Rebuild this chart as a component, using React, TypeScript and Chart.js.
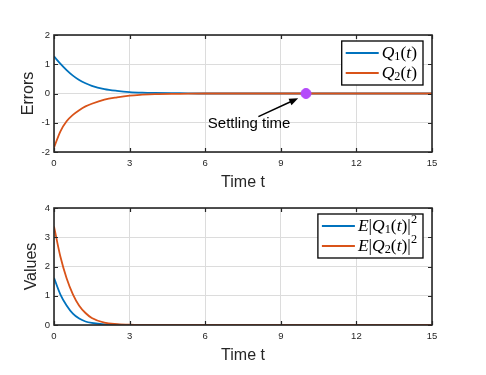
import React, { useEffect, useRef } from "react";
import { Chart, registerables } from "chart.js";

Chart.register(...registerables);

// ---------- data ----------
const tErr = [0, 0.25, 0.5, 0.75, 1, 1.25, 1.5, 2, 2.5, 3, 3.5, 4, 5, 6, 8, 10, 12, 15];
const q1Err = [1.27, 1.02, 0.8, 0.61, 0.46, 0.35, 0.26, 0.15, 0.09, 0.05, 0.03, 0.02, 0.01, 0, 0, 0, 0, 0];
const q2Err = [-1.85, -1.3, -0.95, -0.73, -0.57, -0.44, -0.35, -0.21, -0.13, -0.07, -0.04, -0.02, -0.01, 0, 0, 0, 0, 0];

const tVal = [0, 0.25, 0.5, 0.75, 1, 1.25, 1.5, 2, 2.5, 3, 4, 5, 6, 8, 10, 12, 15];
const q1Val = [1.61, 1.05, 0.67, 0.39, 0.22, 0.12, 0.07, 0.02, 0.01, 0, 0, 0, 0, 0, 0, 0, 0];
const q2Val = [3.37, 2.35, 1.6, 1.05, 0.66, 0.41, 0.24, 0.08, 0.03, 0.01, 0, 0, 0, 0, 0, 0, 0];

const xTicks = [0, 3, 6, 9, 12, 15];

const settlingT = [10];
const settlingV = [0];
const annotText = "Settling time";
const annotTextAt = [7.74, -1.04];
const arrowFrom = [8.11, -0.79];
const arrowTo = [9.69, -0.16];

const BLUE = "#0072BD";
const ORANGE = "#D95319";
const PURPLE = "rgb(180,75,250)";
const AXIS = "#262626";
const GRID = "#dcdcdc";
const SANS = '"Liberation Sans", Arial, Helvetica, sans-serif';
const SERIF = '"Liberation Serif", "Times New Roman", serif';

type Seg = { t: string; it?: boolean; sub?: boolean; sup?: boolean };

const legendErr: Seg[][] = [
  [{ t: "Q", it: true }, { t: "1", sub: true }, { t: "(" }, { t: "t", it: true }, { t: ")" }],
  [{ t: "Q", it: true }, { t: "2", sub: true }, { t: "(" }, { t: "t", it: true }, { t: ")" }],
];
const legendVal: Seg[][] = [
  [{ t: "E", it: true }, { t: "|" }, { t: "Q", it: true }, { t: "1", sub: true }, { t: "(" }, { t: "t", it: true }, { t: ")" }, { t: "|" }, { t: "2", sup: true }],
  [{ t: "E", it: true }, { t: "|" }, { t: "Q", it: true }, { t: "2", sub: true }, { t: "(" }, { t: "t", it: true }, { t: ")" }, { t: "|" }, { t: "2", sup: true }],
];

const FS = 17.5;
function richWidth(ctx: CanvasRenderingContext2D, segs: Seg[]) {
  let w = 0;
  for (const s of segs) {
    const fs = s.sub || s.sup ? FS * 0.7 : FS;
    ctx.font = `${s.it ? "italic " : ""}${fs}px ${SERIF}`;
    w += ctx.measureText(s.t).width;
  }
  return w;
}
function drawRich(ctx: CanvasRenderingContext2D, segs: Seg[], x: number, y: number) {
  let cx = x;
  for (const s of segs) {
    const fs = s.sub || s.sup ? FS * 0.7 : FS;
    ctx.font = `${s.it ? "italic " : ""}${fs}px ${SERIF}`;
    const dy = s.sub ? FS * 0.22 : s.sup ? -FS * 0.38 : 0;
    ctx.fillText(s.t, cx, y + dy);
    cx += ctx.measureText(s.t).width;
  }
}

function makePlugin(legend: Seg[][], colors: string[], withAnnot: boolean) {
  return {
    id: "matlabDecor",
    afterDatasetsDraw(chart: any) {
      const ctx: CanvasRenderingContext2D = chart.ctx;
      const { left, right, top, bottom } = chart.chartArea;
      const xs = chart.scales.x;
      const ys = chart.scales.y;
      ctx.save();
      if (withAnnot) {
        const x1 = xs.getPixelForValue(arrowFrom[0]);
        const y1 = ys.getPixelForValue(arrowFrom[1]);
        const x2 = xs.getPixelForValue(arrowTo[0]);
        const y2 = ys.getPixelForValue(arrowTo[1]);
        const ang = Math.atan2(y2 - y1, x2 - x1);
        const hl = 9, hw = 3.5;
        ctx.strokeStyle = "#000";
        ctx.lineWidth = 1.5;
        ctx.beginPath();
        ctx.moveTo(x1, y1);
        ctx.lineTo(x2 - Math.cos(ang) * hl * 0.8, y2 - Math.sin(ang) * hl * 0.8);
        ctx.stroke();
        ctx.fillStyle = "#000";
        ctx.beginPath();
        ctx.moveTo(x2, y2);
        ctx.lineTo(x2 - Math.cos(ang) * hl - Math.sin(ang) * hw, y2 - Math.sin(ang) * hl + Math.cos(ang) * hw);
        ctx.lineTo(x2 - Math.cos(ang) * hl + Math.sin(ang) * hw, y2 - Math.sin(ang) * hl - Math.cos(ang) * hw);
        ctx.closePath();
        ctx.fill();
        ctx.font = `15px ${SANS}`;
        ctx.textAlign = "center";
        ctx.textBaseline = "middle";
        ctx.fillText(annotText, xs.getPixelForValue(annotTextAt[0]), ys.getPixelForValue(annotTextAt[1]));
      }
      ctx.strokeStyle = AXIS;
      ctx.lineWidth = 1.6;
      ctx.strokeRect(left, top, right - left, bottom - top);
      const tl = 4;
      ctx.lineWidth = 1.2;
      ctx.beginPath();
      for (const v of xTicks) {
        const px = Math.round(xs.getPixelForValue(v)) + 0.5;
        ctx.moveTo(px, bottom);
        ctx.lineTo(px, bottom - tl);
        ctx.moveTo(px, top);
        ctx.lineTo(px, top + tl);
      }
      for (const t of ys.ticks) {
        const py = Math.round(ys.getPixelForValue(t.value)) + 0.5;
        ctx.moveTo(left, py);
        ctx.lineTo(left + tl, py);
        ctx.moveTo(right, py);
        ctx.lineTo(right - tl, py);
      }
      ctx.stroke();
      const tw = Math.max(...legend.map((l) => richWidth(ctx, l)));
      const lineLen = 33;
      const bw = 4 + lineLen + 3 + tw + 6;
      const bh = 44;
      const bx = right - 9 - bw;
      const by = top + 6;
      ctx.fillStyle = "#fff";
      ctx.fillRect(bx, by, bw, bh);
      ctx.strokeStyle = "#000";
      ctx.lineWidth = 1.3;
      ctx.strokeRect(bx, by, bw, bh);
      const rows = [by + 12, by + 32];
      legend.forEach((segs, i) => {
        ctx.strokeStyle = colors[i];
        ctx.lineWidth = 2;
        ctx.beginPath();
        ctx.moveTo(bx + 4, rows[i]);
        ctx.lineTo(bx + 4 + lineLen, rows[i]);
        ctx.stroke();
        ctx.fillStyle = "#000";
        ctx.textAlign = "left";
        ctx.textBaseline = "middle";
        drawRich(ctx, segs, bx + 4 + lineLen + 3, rows[i]);
      });
      ctx.restore();
    },
  };
}

function pts(ts: number[], vs: number[]) {
  return ts.map((t, i) => ({ x: t, y: vs[i] }));
}

function makeOptions(yMin: number, yMax: number, yTitle: string, yTitlePad: number, topPad: number) {
  return {
    responsive: false,
    animation: false as const,
    layout: { padding: { left: 0, right: 54, top: topPad, bottom: 0 } },
    plugins: { legend: { display: false }, tooltip: { enabled: false } },
    scales: {
      x: {
        type: "linear" as const,
        min: 0,
        max: 15,
        afterBuildTicks: (s: any) => {
          s.ticks = xTicks.map((v) => ({ value: v }));
        },
        afterFit: (s: any) => {
          s.height = 38;
        },
        grid: { color: GRID, lineWidth: 1, drawTicks: false },
        border: { display: false },
        ticks: { color: AXIS, font: { family: SANS, size: 9.5 }, padding: 6, maxRotation: 0 },
        title: { display: true, text: "Time t", color: AXIS, font: { family: SANS, size: 16, lineHeight: 1 }, padding: { top: 0, bottom: -1 } },
      },
      y: {
        type: "linear" as const,
        min: yMin,
        max: yMax,
        ticks: { stepSize: 1, color: AXIS, font: { family: SANS, size: 9.5 }, padding: 4 },
        afterFit: (s: any) => {
          s.width = 54;
        },
        grid: { color: GRID, lineWidth: 1, drawTicks: false },
        border: { display: false },
        title: { display: true, text: yTitle, color: AXIS, font: { family: SANS, size: 16, lineHeight: 1 }, padding: { top: yTitlePad, bottom: 0 } },
      },
    },
  };
}

function ErrChart() {
  const ref = useRef<HTMLCanvasElement>(null);
  useEffect(() => {
    const chart = new Chart(ref.current!, {
      type: "line",
      data: {
        datasets: [
          { type: "scatter" as any, label: "settling", data: pts(settlingT, settlingV), backgroundColor: PURPLE, borderColor: PURPLE, pointRadius: 5, order: -1 } as any,
          { label: "Q1", data: pts(tErr, q1Err), borderColor: BLUE, borderWidth: 1.8, pointRadius: 0, cubicInterpolationMode: "monotone", order: 2 },
          { label: "Q2", data: pts(tErr, q2Err), borderColor: ORANGE, borderWidth: 1.8, pointRadius: 0, cubicInterpolationMode: "monotone", order: 1 },
        ],
      },
      options: makeOptions(-2, 2, "Errors", 21, 35) as any,
      plugins: [makePlugin(legendErr, [BLUE, ORANGE], true)],
    });
    return () => chart.destroy();
  }, []);
  return <canvas ref={ref} width={486} height={190} style={{ position: "absolute", left: 0, top: 0 }} />;
}

function ValChart() {
  const ref = useRef<HTMLCanvasElement>(null);
  useEffect(() => {
    const chart = new Chart(ref.current!, {
      type: "line",
      data: {
        datasets: [
          { label: "E|Q1|^2", data: pts(tVal, q1Val), borderColor: BLUE, borderWidth: 1.8, pointRadius: 0, cubicInterpolationMode: "monotone", order: 2 },
          { label: "E|Q2|^2", data: pts(tVal, q2Val), borderColor: ORANGE, borderWidth: 1.8, pointRadius: 0, cubicInterpolationMode: "monotone", order: 1 },
        ],
      },
      options: makeOptions(0, 4, "Values", 24, 18) as any,
      plugins: [makePlugin(legendVal, [BLUE, ORANGE], false)],
    });
    return () => chart.destroy();
  }, []);
  return <canvas ref={ref} width={486} height={173} style={{ position: "absolute", left: 0, top: 190 }} />;
}

export default function App() {
  return (
    <div style={{ position: "absolute", left: 0, top: 0, width: 486, height: 375, background: "#fff" }}>
      <ErrChart />
      <ValChart />
    </div>
  );
}
